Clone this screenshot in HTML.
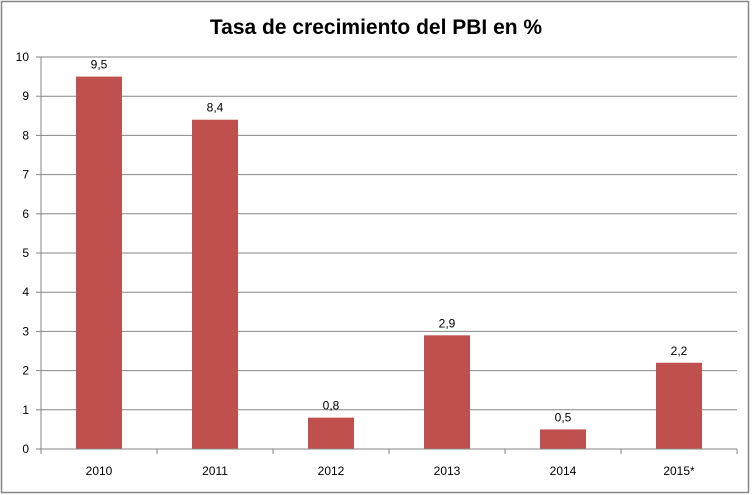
<!DOCTYPE html>
<html><head><meta charset="utf-8"><style>
html,body{margin:0;padding:0;background:#fff}
svg{display:block;font-family:"Liberation Sans",sans-serif}
</style></head><body>
<svg width="753" height="495">
<rect x="1.5" y="1.5" width="747" height="491" fill="#fff" stroke="#868686" stroke-width="1.5"/>
<text x="376" y="34" text-anchor="middle" font-size="21" font-weight="bold" fill="#000">Tasa de crecimiento del PBI en %</text>
<g id="grid"></g><g id="bars"></g><g id="axes"></g>
</svg>
<script>
const categories=["2010","2011","2012","2013","2014","2015*"];
const values=[9.5,8.4,0.8,2.9,0.5,2.2];
const valueLabels=["9,5","8,4","0,8","2,9","0,5","2,2"];
const yTicks=[0,1,2,3,4,5,6,7,8,9,10];
const NS="http://www.w3.org/2000/svg";
const x0=41,x1=737,y0=449,yTop=57,yMax=10;
const band=(x1-x0)/categories.length,bw=46;
const y=v=>y0-(v/yMax)*(y0-yTop);
const xc=i=>x0+band*(i+0.5);
function mk(t,a,p){const e=document.createElementNS(NS,t);for(const k in a)e.setAttribute(k,a[k]);p.appendChild(e);return e;}
const g=document.getElementById('grid'),b=document.getElementById('bars'),ax=document.getElementById('axes');
yTicks.forEach(t=>{
 if(t>0){const l=mk('line',{x1:x0,x2:x1,y1:y(t),y2:y(t),stroke:'#868686','stroke-width':1},g);
 
 }
 const tk=mk('line',{x1:x0-5,x2:x0,y1:y(t),y2:y(t),stroke:'#868686'},ax);
 
 
 const tx=mk('text',{x:x0-12,y:y(t)+4,'text-anchor':'end','font-size':12,fill:'#000'},ax);
 tx.textContent=t;
 
 
});
categories.forEach((c,i)=>{
 const r=mk('rect',{x:xc(i)-bw/2,y:y(values[i]),width:bw,height:y0-y(values[i]),fill:'#c0504d'},b);
 
 
 const vl=mk('text',{x:xc(i),y:y(values[i])-8,'text-anchor':'middle','font-size':12,fill:'#000'},b);
 vl.textContent=valueLabels[i];
 
 
 const xl=mk('text',{x:xc(i),y:475,'text-anchor':'middle','font-size':12,fill:'#000'},ax);
 xl.textContent=c;
 
 
});
for(let i=0;i<=categories.length;i++){
 const t=mk('line',{x1:x0+band*i,x2:x0+band*i,y1:y0,y2:y0+5,stroke:'#868686'},ax);
 
 
}
const ya=mk('line',{x1:x0,x2:x0,y1:yTop,y2:y0,stroke:'#868686'},ax);


const xa=mk('line',{x1:x0,x2:x1,y1:y0,y2:y0,stroke:'#868686'},ax);


</script>
</body></html>
